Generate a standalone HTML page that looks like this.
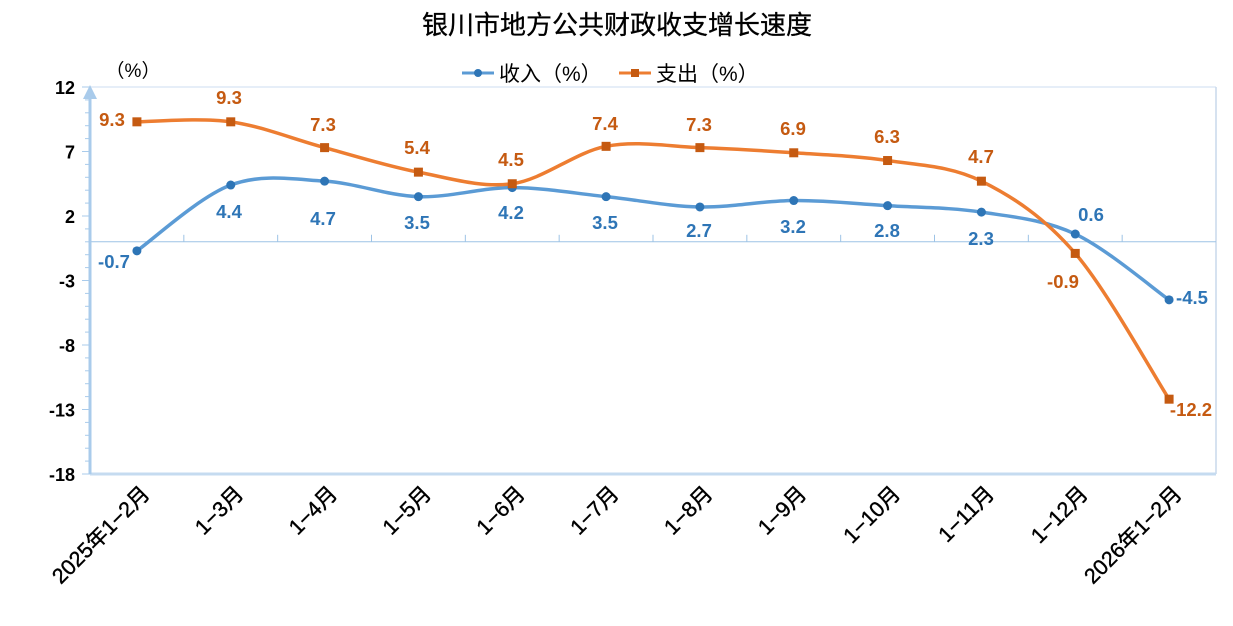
<!DOCTYPE html><html><head><meta charset="utf-8"><style>
body{margin:0;background:#fff;}
svg text{font-family:"Liberation Sans","Noto Sans CJK SC",sans-serif;}
</style></head><body>
<svg id="s" width="1233" height="621" xmlns="http://www.w3.org/2000/svg"></svg>
<script>
const s=document.getElementById('s');let h='';
const X0=90,X1=1216,W=(X1-X0)/12,Y=v=>87+(12-v)*12.9,X=i=>X0+W*(i+0.5);
h+=`<text x="617" y="34" font-size="26" text-anchor="middle" fill="#000" stroke="#000" stroke-width="0.3">银川市地方公共财政收支增长速度</text>`;
h+=`<text x="133" y="77" font-size="19" text-anchor="middle" fill="#000">（%）</text>`;
h+=`<line x1="462" y1="73" x2="494" y2="73" stroke="#5b9bd5" stroke-width="3"/><circle cx="478" cy="73" r="4" fill="#2e75b6"/><text x="499" y="81" font-size="21">收入（%）</text>`;
h+=`<line x1="619" y1="73" x2="651" y2="73" stroke="#ed7d31" stroke-width="3"/><rect x="631" y="69" width="8" height="8" fill="#c55a11"/><text x="656" y="81" font-size="21">支出（%）</text>`;
h+=`<line x1="90" y1="87" x2="1216" y2="87" stroke="#e6eef8" stroke-width="2"/><line x1="1216" y1="87" x2="1216" y2="474" stroke="#c8d8ec" stroke-width="1.5"/>`;
h+=`<line x1="90" y1="474" x2="1216" y2="474" stroke="#c5dbf0" stroke-width="3"/>`;
h+=`<line x1="90" y1="${Y(0)}" x2="1216" y2="${Y(0)}" stroke="#9dc3e6" stroke-width="1"/>`;
for(let i=1;i<12;i++)h+=`<line x1="${X0+W*i}" y1="${Y(0)}" x2="${X0+W*i}" y2="${Y(0)-7}" stroke="#9dc3e6"/>`;
h+=`<line x1="90" y1="474" x2="90" y2="92" stroke="#a9cbeb" stroke-width="3"/><polygon points="90,85 83,99 97,99" fill="#a9cbeb"/>`;
for(let v=-18;v<=12;v++){h+=`<line x1="${v%5==2||v%5==-3?82:85}" y1="${Y(v)}" x2="90" y2="${Y(v)}" stroke="#a9cbeb"/>`;}
for(let v=-18;v<=12;v+=5)h+=`<text x="75" y="${Y(v)+7}" font-size="18" font-weight="bold" text-anchor="end">${v}</text>`;
const cats=["2025年1−2月","1−3月","1−4月","1−5月","1−6月","1−7月","1−8月","1−9月","1−10月","1−11月","1−12月","2026年1−2月"];
cats.forEach((c,i)=>{const x=X(i)+14,y=495;h+=`<text transform="translate(${x},${y}) rotate(-45)" font-size="21.5" text-anchor="end" stroke="#000" stroke-width="0.4">${c}</text>`;});
function path(d){const p=d.map((v,i)=>[X(i),Y(v)]);let r=`M${p[0]}`;for(let i=0;i<p.length-1;i++){const a=p[i-1]||p[i],b=p[i],c=p[i+1],e=p[i+2]||c;const t=1/6;r+=` C${b[0]+(c[0]-a[0])*t},${b[1]+(c[1]-a[1])*t} ${c[0]-(e[0]-b[0])*t},${c[1]-(e[1]-b[1])*t} ${c[0]},${c[1]}`;}return r;}
const inc=[-0.7,4.4,4.7,3.5,4.2,3.5,2.7,3.2,2.8,2.3,0.6,-4.5],exp=[9.3,9.3,7.3,5.4,4.5,7.4,7.3,6.9,6.3,4.7,-0.9,-12.2];
h+=`<path d="${path(inc)}" fill="none" stroke="#5b9bd5" stroke-width="3.5"/>`;
h+=`<path d="${path(exp)}" fill="none" stroke="#ed7d31" stroke-width="3.5"/>`;
inc.forEach((v,i)=>h+=`<circle cx="${X(i)}" cy="${Y(v)}" r="4.5" fill="#2e75b6"/>`);
exp.forEach((v,i)=>h+=`<rect x="${X(i)-4.5}" y="${Y(v)-4.5}" width="9" height="9" fill="#c55a11"/>`);
const il=[[114,261],[229,211],[323,218],[417,222],[511,212],[605,222],[699,230],[793,226],[887,230],[981,238],[1091,214],[1192,297]];
const el=[[112,119],[229,97],[323,124],[417,147],[511,159],[605,123],[699,124],[793,128],[887,136],[981,156],[1063,281],[1191,409]];
il.forEach((p,i)=>h+=`<text x="${p[0]}" y="${p[1]+7}" font-size="18.5" font-weight="bold" fill="#2e75b6" text-anchor="middle">${inc[i]}</text>`);
el.forEach((p,i)=>h+=`<text x="${p[0]}" y="${p[1]+7}" font-size="18.5" font-weight="bold" fill="#c55a11" text-anchor="middle">${exp[i]}</text>`);
s.innerHTML=h;
</script></body></html>
